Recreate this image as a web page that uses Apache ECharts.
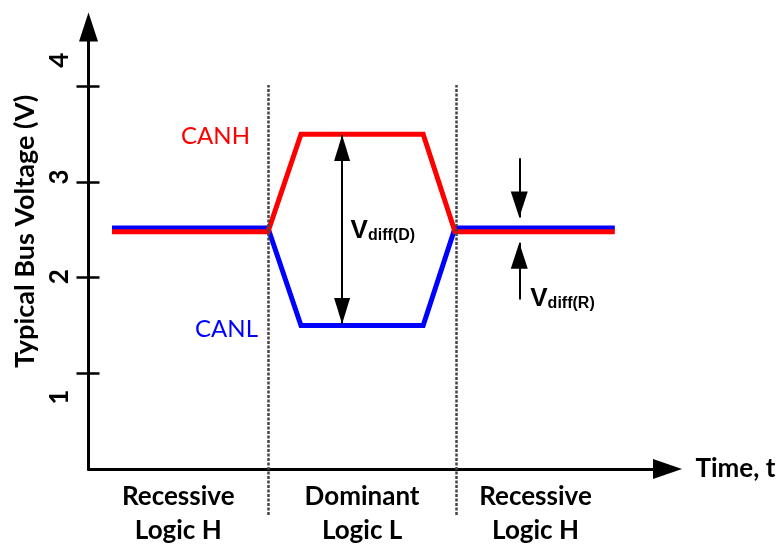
<!DOCTYPE html>
<html><head><meta charset="utf-8">
<script src="https://cdn.jsdelivr.net/npm/echarts@6/dist/echarts.min.js"></script>
<style>html,body{margin:0;padding:0;background:#fff}#c{width:782px;height:544px}</style>
</head><body><div id="c"></div>
<script>
// ---- data ----
const seriesNames = ['CANH', 'CANL'];
const timePoints = [4.06, 31.0, 36.7, 57.8, 63.3, 90.9];
const canH = [2.48, 2.48, 3.5, 3.5, 2.48, 2.48];
const canL = [2.52, 2.52, 1.5, 1.5, 2.52, 2.52];
const yTickValues = [1, 2, 3, 4];
const yTickLabels = ['1', '2', '3', '4'];
const regionBounds = [0, 31.0, 63.5, 90.9];
const regionLabels = ['Recessive\nLogic H', 'Dominant\nLogic L', 'Recessive\nLogic H'];
const vDiffDLabel = ['V', 'diff(D)'];
const vDiffRLabel = ['V', 'diff(R)'];
const xAxisName = 'Time, t';
const yAxisName = 'Typical Bus Voltage (V)';

// ---- annotation anchors (time, volt) ----
const diffDTime = 43.8, diffDTop = 3.49, diffDBottom = 1.515, diffDLabelY = 2.487;
const diffRTime = 74.4, diffRTailTop = 3.247, diffRTipTop = 2.63, diffRTipBottom = 2.365, diffRTailBottom = 1.773, diffRLabelY = 1.782;

const BOLD = 'Lato';
const ARIAL = 'Liberation Sans';
const Y_MAX = 4.62, X_MAX = 100;
const GRID = {left: 88.5, right: 114.5, top: 27, bottom: 75};

const chart = echarts.init(document.getElementById('c'), null, {renderer: 'canvas'});

const zip = (xs, ys) => xs.map((x, i) => [x, ys[i]]);
const vLabelRich = {
  v: {fontFamily: ARIAL, fontWeight: 'bold', fontSize: 26, color: '#000'},
  s: {fontFamily: ARIAL, fontWeight: 'bold', fontSize: 16, color: '#000', verticalAlign: 'bottom', lineHeight: 10}
};

const option = {
  animation: false,
  backgroundColor: '#fff',
  grid: [
    Object.assign({}, GRID),
    {left: GRID.left, right: GRID.right, top: 85, bottom: 29}
  ],
  xAxis: [
    {
      type: 'value', gridIndex: 0, min: 0, max: X_MAX,
      axisLine: {onZero: false, symbol: ['none', 'triangle'], symbolSize: [20, 29], lineStyle: {color: '#000', width: 3}},
      axisTick: {show: false}, axisLabel: {show: false}, splitLine: {show: false},
      name: xAxisName, nameLocation: 'end', nameGap: 28,
      nameTextStyle: {fontFamily: BOLD, fontWeight: 'bold', fontSize: 26, color: '#000', align: 'left', verticalAlign: 'middle'}
    },
    {type: 'value', gridIndex: 1, min: 0, max: X_MAX, show: false}
  ],
  yAxis: [
    {
      type: 'value', gridIndex: 0, min: 0, max: Y_MAX,
      axisLine: {onZero: false, symbol: ['none', 'triangle'], symbolSize: [19, 29], lineStyle: {color: '#000', width: 3}},
      axisTick: {show: true, customValues: yTickValues, length: 12, lineStyle: {color: '#000', width: 2.5}},
      axisLabel: {
        show: true, customValues: yTickValues, rotate: 90, margin: 16,
        fontFamily: BOLD, fontWeight: 'bold', fontSize: 26, color: '#000',
        formatter: v => '{t' + v + '|' + yTickLabels[yTickValues.indexOf(v)] + '}',
        rich: {
          t1: {padding: [0, 48, 0, 0]},
          t2: {padding: [0, 0, 0, 2]},
          t3: {padding: [0, 0, 0, 10]},
          t4: {padding: [0, 0, 0, 52]}
        }
      },
      splitLine: {show: false},
      name: yAxisName, nameLocation: 'middle', nameRotate: 90, nameGap: 50,
      nameTextStyle: {fontFamily: BOLD, fontWeight: 'bold', fontSize: 27, color: '#000', padding: [0, 0, 0, 33]}
    },
    {
      type: 'value', gridIndex: 0, min: 0, max: Y_MAX, position: 'left', offset: 0,
      axisLine: {show: false}, axisLabel: {show: false}, splitLine: {show: false},
      axisTick: {show: true, inside: true, customValues: yTickValues, length: 11, lineStyle: {color: '#000', width: 2.5}}
    },
    {type: 'value', gridIndex: 1, min: 0, max: 1, show: false}
  ],
  series: [
    {
      name: seriesNames[1], type: 'line', xAxisIndex: 0, yAxisIndex: 0,
      data: zip(timePoints, canL), symbol: 'none', color: '#0000ff',
      lineStyle: {color: '#0000ff', width: 5, join: 'miter'}, silent: true,
      markPoint: {
        silent: true, symbol: 'circle', symbolSize: 0,
        data: [{coord: [timePoints[2], canL[2]]}],
        label: {show: true, position: 'left', distance: 43, offset: [0, 4], formatter: seriesNames[1],
          fontFamily: BOLD, fontSize: 24, color: '#0000ff'}
      }
    },
    {
      name: seriesNames[0], type: 'line', xAxisIndex: 0, yAxisIndex: 0,
      data: zip(timePoints, canH), symbol: 'none', color: '#ff0000',
      lineStyle: {color: '#ff0000', width: 5, join: 'miter'}, silent: true,
      markPoint: {
        silent: true, symbol: 'circle', symbolSize: 0,
        data: [{coord: [timePoints[2], canH[2]]}],
        label: {show: true, position: 'left', distance: 51, offset: [0, 2], formatter: seriesNames[0],
          fontFamily: BOLD, fontSize: 24, color: '#ff0000'}
      }
    },
    {
      type: 'line', xAxisIndex: 0, yAxisIndex: 0, data: [], silent: true,
      markLine: {
        silent: true, animation: false,
        symbol: ['triangle', 'triangle'], symbolSize: [16, 26], symbolOffset: [[0, 13], [0, 13]],
        label: {show: false}, emphasis: {disabled: true},
        lineStyle: {color: '#000', width: 2, type: 'solid'},
        data: [[{coord: [diffDTime, diffDTop]}, {coord: [diffDTime, diffDBottom]}]]
      },
      markPoint: {
        silent: true, symbol: 'circle', symbolSize: 0,
        label: {show: true, position: 'right', rich: vLabelRich},
        data: [
          {coord: [diffDTime, diffDLabelY], label: {distance: 8.5, formatter: '{v|' + vDiffDLabel[0] + '}{s|' + vDiffDLabel[1] + '}'}},
          {coord: [diffRTime, diffRLabelY], label: {distance: 11, formatter: '{v|' + vDiffRLabel[0] + '}{s|' + vDiffRLabel[1] + '}'}}
        ]
      }
    },
    {
      type: 'line', xAxisIndex: 0, yAxisIndex: 0, data: [], silent: true,
      markLine: {
        silent: true, animation: false,
        symbol: ['none', 'triangle'], symbolSize: [17, 26], symbolOffset: [[0, 0], [0, 13]],
        label: {show: false}, emphasis: {disabled: true},
        lineStyle: {color: '#000', width: 2, type: 'solid'},
        data: [
          [{coord: [diffRTime, diffRTailTop]}, {coord: [diffRTime, diffRTipTop]}],
          [{coord: [diffRTime, diffRTailBottom]}, {coord: [diffRTime, diffRTipBottom]}]
        ]
      }
    },
    {
      type: 'line', xAxisIndex: 1, yAxisIndex: 2, data: [], silent: true,
      markLine: {
        silent: true, animation: false, symbol: ['none', 'none'],
        label: {show: false}, emphasis: {disabled: true},
        lineStyle: {color: '#444', width: 2.5, type: [3, 1.5]},
        data: regionBounds.slice(1, 3).map(v => ({xAxis: v}))
      }
    }
  ]
};
chart.setOption(option);

// region labels under the time axis, centred on each region
const graphics = regionLabels.map((txt, i) => {
  const mid = (regionBounds[i] + regionBounds[i + 1]) / 2;
  const px = chart.convertToPixel({xAxisIndex: 0}, mid);
  return {
    type: 'text', x: px, y: 480, silent: true,
    style: {text: txt, fontFamily: BOLD, fontWeight: 'bold', fontSize: 26, lineHeight: 34,
      fill: '#000', align: 'center', verticalAlign: 'top'}
  };
});
chart.setOption({graphic: graphics});
</script>
</body></html>
